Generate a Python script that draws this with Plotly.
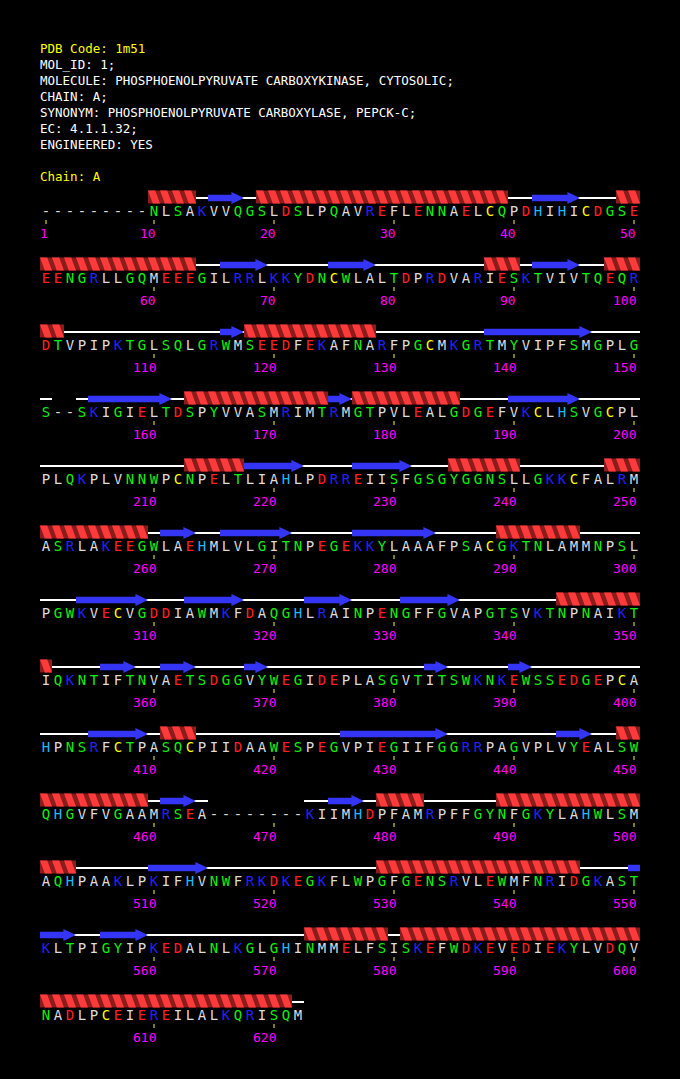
import plotly.graph_objects as go

# header info
pdb_code = "1m51"
header_lines = [
    "MOL_ID: 1;",
    "MOLECULE: PHOSPHOENOLPYRUVATE CARBOXYKINASE, CYTOSOLIC;",
    "CHAIN: A;",
    "SYNONYM: PHOSPHOENOLPYRUVATE CARBOXYLASE, PEPCK-C;",
    "EC: 4.1.1.32;",
    "ENGINEERED: YES",
]
chain_id = "A"

# sequence, 50 residues per line, '-' = not observed
sequence_rows = [
    "---------NLSAKVVQGSLDSLPQAVREFLENNAELCQPDHIHICDGSE",
    "EENGRLLGQMEEEGILRRLKKYDNCWLALTDPRDVARIESKTVIVTQEQR",
    "DTVPIPKTGLSQLGRWMSEEDFEKAFNARFPGCMKGRTMYVIPFSMGPLG",
    "S--SKIGIELTDSPYVVASMRIMTRMGTPVLEALGDGEFVKCLHSVGCPL",
    "PLQKPLVNNWPCNPELTLIAHLPDRREIISFGSGYGGNSLLGKKCFALRM",
    "ASRLAKEEGWLAEHMLVLGITNPEGEKKYLAAAFPSACGKTNLAMMNPSL",
    "PGWKVECVGDDIAWMKFDAQGHLRAINPENGFFGVAPGTSVKTNPNAIKT",
    "IQKNTIFTNVAETSDGGVYWEGIDEPLASGVTITSWKNKEWSSEDGEPCA",
    "HPNSRFCTPASQCPIIDAAWESPEGVPIEGIIFGGRRPAGVPLVYEALSW",
    "QHGVFVGAAMRSEA--------KIIMHDPFAMRPFFGYNFGKYLAHWLSM",
    "AQHPAAKLPKIFHVNWFRKDKEGKFLWPGFGENSRVLEWMFNRIDGKAST",
    "KLTPIGYIPKEDALNLKGLGHINMMELFSISKEFWDKEVEDIEKYLVDQV",
    "NADLPCEIEREILALKQRISQM",
]

# secondary structure (first, last residue)
helices = [(10, 13), (19, 39), (49, 63), (88, 90), (98, 102), (118, 128),
           (163, 174), (177, 185), (213, 217), (235, 240), (248, 259),
           (289, 295), (344, 351), (411, 413), (449, 459), (479, 482),
           (489, 503), (529, 545), (573, 579), (581, 621)]
strands = [(15, 17), (42, 45), (66, 69), (75, 78), (92, 95), (116, 117),
           (138, 146), (155, 161), (175, 176), (190, 195), (218, 222),
           (227, 231), (261, 263), (266, 271), (277, 283), (304, 309),
           (313, 317), (323, 326), (331, 335), (356, 358), (361, 363),
           (368, 369), (383, 384), (390, 391), (405, 409), (426, 434),
           (444, 446), (461, 463), (475, 477), (510, 514), (550, 553),
           (556, 559)]

tick_residues = [1] + list(range(10, 621, 10))

residue_colors = {}
for aa in "DE":
    residue_colors[aa] = "#ff2020"
for aa in "KR":
    residue_colors[aa] = "#2020ff"
for aa in "NQSTGYW":
    residue_colors[aa] = "#10f010"
residue_colors["H"] = "#20b8ff"
residue_colors["C"] = "#ffff00"
other_color = "#dcdcdc"

PER_ROW = 50
ROW_TOP = 212
ROW_STEP = 67
FONT = "DejaVu Sans Mono"

seq = "".join(sequence_rows)


def loc(pos):
    r, c = divmod(pos - 1, PER_ROW)
    return r, c, ROW_TOP + ROW_STEP * r


def pieces(s, e):
    out = []
    p = s
    while p <= e:
        r, c, y = loc(p)
        last = min(e, (r + 1) * PER_ROW)
        out.append((c, c + last - p, y, last == e))
        p = last + 1
    return out


fig = go.Figure()

# coil line under present residues
cx, cy = [], []
for r, row in enumerate(sequence_rows):
    y = ROW_TOP + ROW_STEP * r - 14
    c = 0
    while c < len(row):
        if row[c] == "-":
            c += 1
            continue
        c0 = c
        while c < len(row) and row[c] != "-":
            c += 1
        cx += [c0 - 0.5, c - 0.5, None]
        cy += [y, y, None]
fig.add_trace(go.Scatter(x=cx, y=cy, mode="lines",
                         line=dict(color="white", width=2), hoverinfo="skip"))

# helices: dark ribbon + bright slanted turns (one per residue)
dx, dy = [], []
px, py = [], []
for s, e in helices:
    for c0, c1, y, _ in pieces(s, e):
        yc = y - 15
        top, bot = yc - 6.5, yc + 6.5
        dx += [c0 - 0.5, c1 + 0.5, c1 + 0.5, c0 - 0.5, c0 - 0.5, None]
        dy += [top, top, bot, bot, top, None]
        for c in range(c0, c1 + 1):
            px += [c - 0.5, c + 0.1, c + 0.5, c - 0.1, c - 0.5, None]
            py += [top, top, bot, bot, top, None]
fig.add_trace(go.Scatter(x=dx, y=dy, mode="lines", fill="toself",
                         fillcolor="#8a1c1c", line=dict(width=0, color="#8a1c1c"),
                         hoverinfo="skip"))
fig.add_trace(go.Scatter(x=px, y=py, mode="lines", fill="toself",
                         fillcolor="#ff3a3a", line=dict(width=0, color="#ff3a3a"),
                         hoverinfo="skip"))

# strands as arrows
sx, sy = [], []
head = 1.05
for s, e in strands:
    for c0, c1, y, tip in pieces(s, e):
        x0, x1 = c0 - 0.5, c1 + 0.5
        yc = y - 14
        if tip:
            xb = x1 - min(head, (x1 - x0) * 0.6)
            sx += [x0, xb, xb, x1, xb, xb, x0, x0, None]
            sy += [yc - 3.3, yc - 3.3, yc - 6, yc, yc + 6, yc + 3.3, yc + 3.3, yc - 3.3, None]
        else:
            sx += [x0, x1, x1, x0, x0, None]
            sy += [yc - 3.3, yc - 3.3, yc + 3.3, yc + 3.3, yc - 3.3, None]
fig.add_trace(go.Scatter(x=sx, y=sy, mode="lines", fill="toself",
                         fillcolor="#3535f5", line=dict(width=0, color="#3535f5"),
                         hoverinfo="skip"))

# residue letters
tx, ty, tt, tc = [], [], [], []
for i, aa in enumerate(seq):
    r, c, y = loc(i + 1)
    tx.append(c)
    ty.append(y)
    tt.append(aa)
    tc.append(residue_colors.get(aa, other_color))
fig.add_trace(go.Scatter(x=tx, y=ty, mode="text", text=tt,
                         textfont=dict(family=FONT, size=14, color=tc),
                         hoverinfo="skip"))

# tick marks
kx, ky = [], []
for p in tick_residues:
    r, c, y = loc(p)
    kx += [c, c, None]
    ky += [y + 8, y + 12, None]
fig.add_trace(go.Scatter(x=kx, y=ky, mode="lines",
                         line=dict(color="#ffff00", width=1), hoverinfo="skip"))

annotations = []
for p in tick_residues:
    r, c, y = loc(p)
    annotations.append(dict(x=c, y=y + 21, text=str(p), showarrow=False,
                            xanchor="right", yanchor="middle", xshift=4,
                            font=dict(family=FONT, size=13, color="#ff00ff")))

hdr = [("PDB Code: " + pdb_code, "#ffff00")] + [(t, "white") for t in header_lines]
for i, (t, col) in enumerate(hdr):
    annotations.append(dict(x=-0.5, y=48.5 + 16 * i, text=t, showarrow=False,
                            xanchor="left", yanchor="middle", xshift=-2,
                            font=dict(family=FONT, size=12.5, color=col)))
annotations.append(dict(x=-0.5, y=176.5, text="Chain: " + chain_id, showarrow=False,
                        xanchor="left", yanchor="middle", xshift=-2,
                        font=dict(family=FONT, size=12.5, color="#ffff00")))

fig.update_layout(
    width=680, height=1079,
    margin=dict(l=0, r=0, t=0, b=0),
    paper_bgcolor="black", plot_bgcolor="black",
    showlegend=False,
    xaxis=dict(range=[-46 / 12, (680 - 46) / 12], visible=False, fixedrange=True),
    yaxis=dict(range=[1079, 0], visible=False, fixedrange=True),
    annotations=annotations,
)

fig.write_html("out.html", config={"displayModeBar": False},
               post_script="document.body.style.margin='0';document.body.style.background='black';")
